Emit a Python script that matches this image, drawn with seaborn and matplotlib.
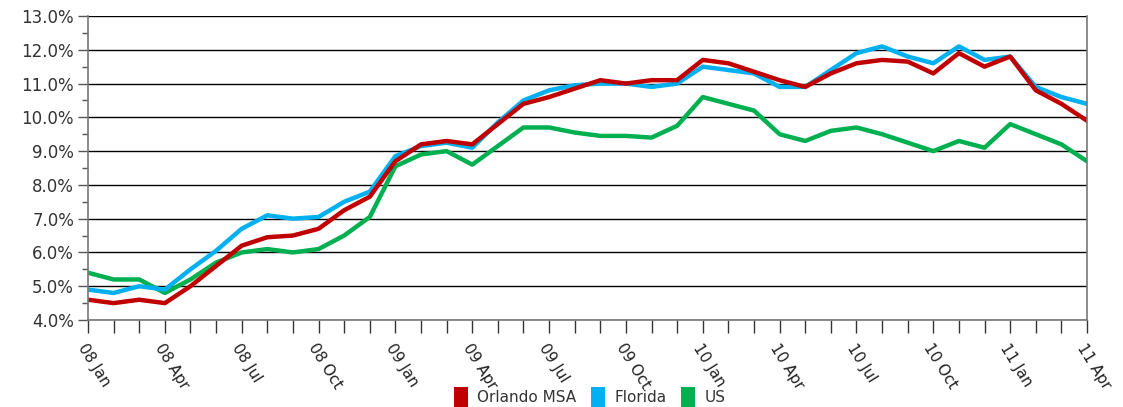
import pandas as pd
import matplotlib
matplotlib.use("Agg")
import matplotlib.pyplot as plt
import numpy as np
import seaborn as sns
from matplotlib.patches import Rectangle
from matplotlib.ticker import FuncFormatter, MultipleLocator

# monthly unemployment rate, 2008 Jan .. 2011 Apr
months = pd.date_range("2008-01-01", "2011-04-01", freq="MS")
month_labels = [d.strftime("%y %b") for d in months]

orlando = [4.6, 4.5, 4.6, 4.5, 5.0, 5.6, 6.2, 6.45, 6.5, 6.7, 7.25, 7.65,
           8.7, 9.2, 9.3, 9.2, 9.8, 10.4, 10.6, 10.85, 11.1, 11.0, 11.1, 11.1,
           11.7, 11.6, 11.35, 11.1, 10.9, 11.3, 11.6, 11.7, 11.65, 11.3, 11.9, 11.5,
           11.8, 10.8, 10.4, 9.9]
florida = [4.9, 4.8, 5.0, 4.9, 5.5, 6.05, 6.7, 7.1, 7.0, 7.05, 7.5, 7.8,
           8.85, 9.15, 9.25, 9.1, 9.85, 10.5, 10.8, 10.95, 11.0, 11.0, 10.9, 11.0,
           11.5, 11.4, 11.3, 10.9, 10.9, 11.4, 11.9, 12.1, 11.8, 11.6, 12.1, 11.7,
           11.8, 10.9, 10.6, 10.4]
us = [5.4, 5.2, 5.2, 4.8, 5.2, 5.7, 6.0, 6.1, 6.0, 6.1, 6.5, 7.05,
      8.55, 8.9, 9.0, 8.6, 9.15, 9.7, 9.7, 9.55, 9.45, 9.45, 9.4, 9.75,
      10.6, 10.4, 10.2, 9.5, 9.3, 9.6, 9.7, 9.5, 9.25, 9.0, 9.3, 9.1,
      9.8, 9.5, 9.2, 8.7]

series_names = ["Orlando MSA", "Florida", "US"]
colors = {"Orlando MSA": "#C00000", "Florida": "#00B0F0", "US": "#00B050"}

df = pd.DataFrame({"idx": np.arange(len(months)),
                   "Orlando MSA": orlando, "Florida": florida, "US": us})
long_df = df.melt(id_vars="idx", var_name="Series", value_name="Rate")

sns.set_style("white")
plt.rcParams['font.family'] = ['DejaVu Sans']

fig = plt.figure(figsize=(11.23, 4.07), dpi=100)
ax = fig.add_axes([88 / 1123, 87 / 407, 999 / 1123, 304 / 407])

# draw US first, Orlando on top
for name in ["US", "Florida", "Orlando MSA"]:
    sns.lineplot(data=long_df[long_df["Series"] == name], x="idx", y="Rate",
                 color=colors[name], linewidth=3.2, ax=ax, legend=False)

ax.set_xlim(0, len(months) - 1)
ax.set_ylim(4, 13)
ax.set_xlabel("")
ax.set_ylabel("")

ax.yaxis.set_major_locator(MultipleLocator(1))
ax.yaxis.set_minor_locator(MultipleLocator(0.5))
ax.yaxis.set_major_formatter(FuncFormatter(lambda v, p: f"{v:.1f}%"))
ax.grid(axis="y", which="major", color="black", linewidth=1)
ax.set_axisbelow(True)

ax.set_xticks(np.arange(0, len(months), 3))
ax.set_xticks(np.arange(len(months)), minor=True)
ax.set_xticklabels(month_labels[::3], rotation=-58, ha="left", va="top",
                   rotation_mode="anchor", fontsize=11, color="#222222")

ax.tick_params(axis="y", which="major", length=7, width=1, color="#555555",
               labelsize=12, labelcolor="#333333", left=True, pad=3)
ax.tick_params(axis="y", which="minor", length=4, width=1, color="#555555", left=True)
ax.tick_params(axis="x", which="both", length=9, width=1, color="#333333",
               bottom=True, direction="out", pad=6)

for side in ["left", "bottom", "right"]:
    ax.spines[side].set_color("#777777")
    ax.spines[side].set_linewidth(1.2)
ax.spines["top"].set_visible(False)

handles = [Rectangle((0, 0), 1, 1, facecolor=colors[n], edgecolor="none") for n in series_names]
fig.legend(handles, series_names, loc="center", bbox_to_anchor=(0.525, 0.025),
           ncol=3, frameon=False, fontsize=11, handlelength=0.9, handleheight=1.6,
           handletextpad=0.6, columnspacing=1.0, labelcolor="#333333")

fig.savefig("out.png", dpi=100)
